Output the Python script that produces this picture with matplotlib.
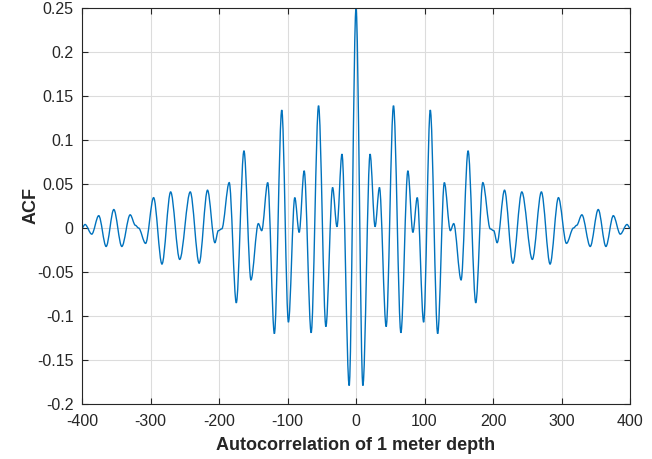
import matplotlib
matplotlib.use('Agg')
import matplotlib.pyplot as plt
from matplotlib.path import Path
from matplotlib.patches import PathPatch

plt.rcParams['font.family'] = ['Liberation Sans', 'DejaVu Sans']
plt.rcParams['axes.unicode_minus'] = False

# ACF extrema (and shoulders), for lag >= 0; ACF is symmetric
lags = [0, 10, 20.5, 27.8, 34.2, 44, 54.7, 65.5, 75.7, 83, 89.4, 98.7,
        108.4, 119.2, 128.9, 137.7, 142.6, 153.4, 163.6, 174.8, 185.1,
        196, 201, 206, 216.8, 229, 242, 257.4, 270.6, 283.3, 295.5,
        307.2, 317.5, 322, 329.7, 341.9, 353.6, 364.8, 375.6, 385.8,
        395.6, 400]
acf = [0.25, -0.179, 0.084, 0.0015, 0.046, -0.112, 0.139, -0.119, 0.065,
       -0.005, 0.0345, -0.107, 0.134, -0.12, 0.0516, -0.003, 0.005,
       -0.059, 0.0877, -0.085, 0.0516, -0.001, -0.003, -0.0167, 0.043,
       -0.040, 0.041, -0.0357, 0.041, -0.041, 0.0345, -0.0175, 0.0,
       0.003, 0.015, -0.021, 0.021, -0.021, 0.014, -0.007, 0.004, 0.0]

xticks = [-400, -300, -200, -100, 0, 100, 200, 300, 400]
yticks = [-0.2, -0.15, -0.1, -0.05, 0, 0.05, 0.1, 0.15, 0.2, 0.25]
ytick_labels = ['-0.2', '-0.15', '-0.1', '-0.05', '0', '0.05', '0.1',
                '0.15', '0.2', '0.25']

# mirror to negative lags
xs = [-l for l in lags[:0:-1]] + lags
ys = acf[:0:-1] + acf

# smooth curve through the extrema: cubic segments with flat tangents
verts = [(xs[0], ys[0])]
codes = [Path.MOVETO]
for i in range(len(xs) - 1):
    dx = xs[i + 1] - xs[i]
    verts += [(xs[i] + dx / 3, ys[i]), (xs[i + 1] - dx / 3, ys[i + 1]),
              (xs[i + 1], ys[i + 1])]
    codes += [Path.CURVE4] * 3

fig = plt.figure(figsize=(6.52, 4.59), dpi=100)
ax = fig.add_axes([0.1258, 0.1198, 0.8405, 0.8628])
ax.add_patch(PathPatch(Path(verts, codes), fill=False,
                       edgecolor='#0072BD', linewidth=1.0))

ax.set_xlim(-400, 400)
ax.set_ylim(-0.2, 0.25)
ax.set_xticks(xticks)
ax.set_yticks(yticks)
ax.set_yticklabels(ytick_labels)
ax.grid(True, color='#dcdcdc', linewidth=0.8)
ax.set_axisbelow(True)
ax.tick_params(direction='in', top=True, right=True, length=4,
               labelsize=11.5, colors='#262626', width=0.8)
ax.tick_params(axis='x', pad=7)
ax.tick_params(axis='y', pad=6)
for s in ax.spines.values():
    s.set_color('#262626')
    s.set_linewidth(0.8)

ax.set_xlabel('Autocorrelation of 1 meter depth', fontsize=13,
              fontweight='bold', color='#262626', labelpad=6)
ax.set_ylabel('ACF', fontsize=13, fontweight='bold', color='#262626',
              labelpad=-2)

fig.savefig('out.png', dpi=100)
